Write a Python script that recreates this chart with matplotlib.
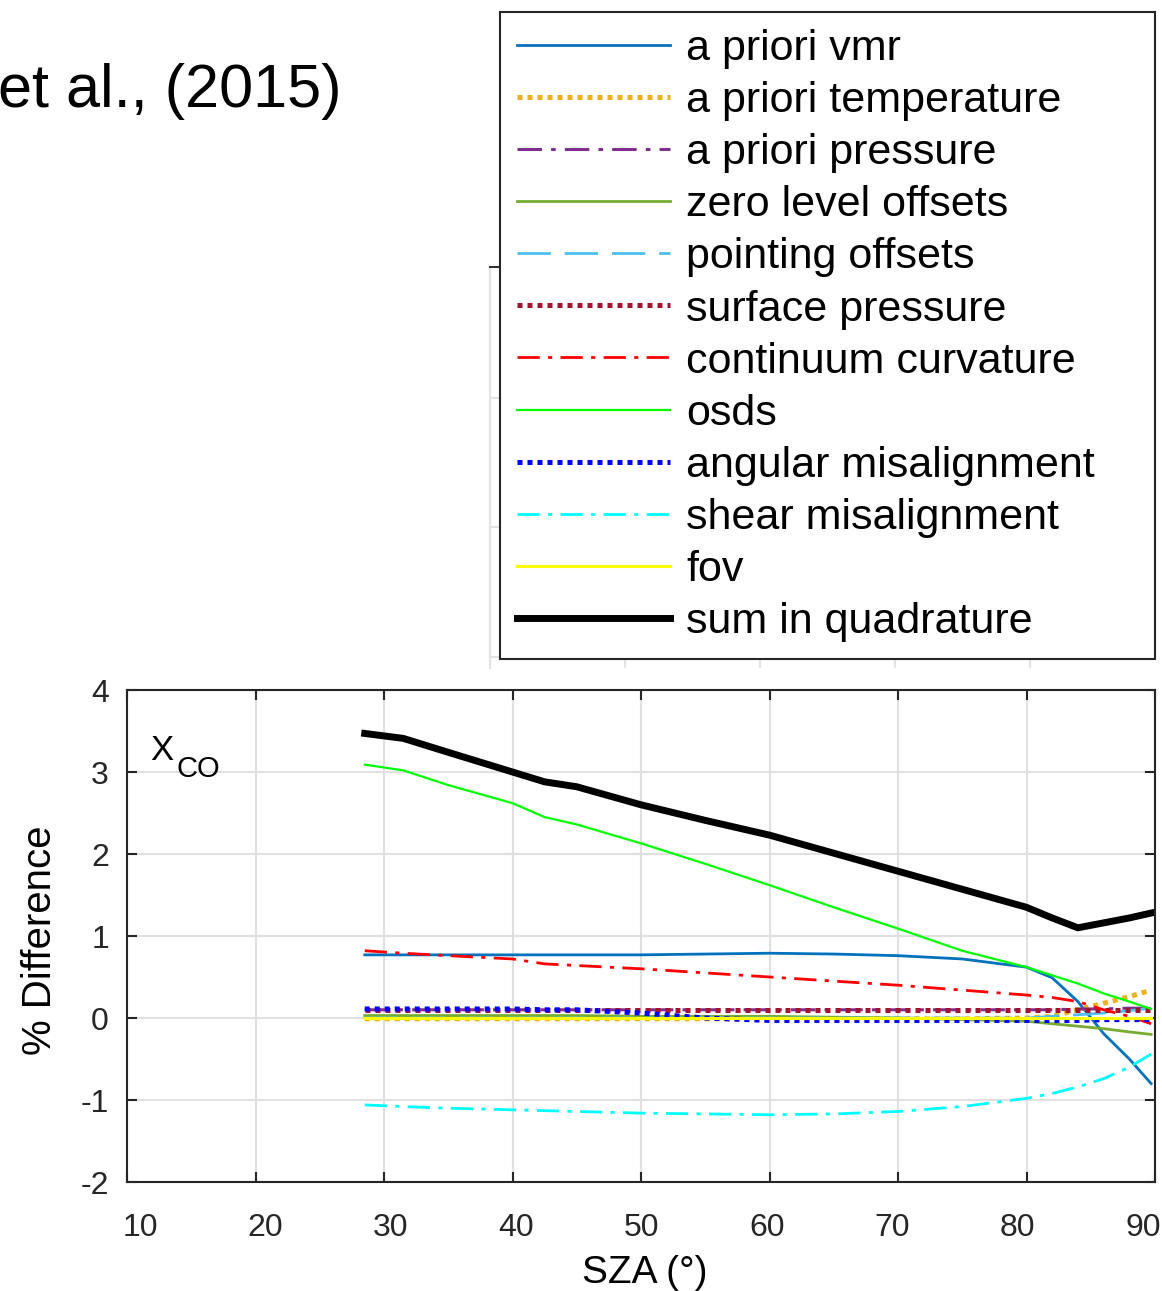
"""XCO error budget vs solar zenith angle (recreated)."""
import matplotlib
matplotlib.use("Agg")
import matplotlib.pyplot as plt
import numpy as np

plt.rcParams.update({"font.family": ["Liberation Sans", "DejaVu Sans"],
                     "axes.unicode_minus": False,
                     "axes.edgecolor": "#262626", "axes.linewidth": 1.5,
                     "xtick.color": "#262626", "ytick.color": "#262626"})

# ---- data ------------------------------------------------------------------
sza = [28.5, 31.5, 35, 40, 42.5, 45, 50, 55, 60, 65, 70, 75, 80, 82, 84, 86, 88, 89.7]

apriori_vmr = [0.77, 0.77, 0.77, 0.77, 0.77, 0.77, 0.77, 0.78, 0.79, 0.78, 0.76, 0.72, 0.62,
               0.49, 0.20, -0.19, -0.50, -0.80]
apriori_temp = [-0.01, -0.01, -0.01, -0.01, -0.01, -0.01, -0.01, -0.01, -0.01, -0.01, -0.01,
                -0.01, 0.0, 0.02, 0.10, 0.18, 0.26, 0.34]
apriori_pres = [0.10, 0.10, 0.10, 0.10, 0.10, 0.10, 0.10, 0.10, 0.10, 0.10, 0.10, 0.10, 0.10,
                0.10, 0.11, 0.11, 0.12, 0.12]
zero_level = [0.03, 0.03, 0.03, 0.03, 0.03, 0.03, 0.02, 0.02, 0.02, 0.01, 0.0, -0.02, -0.04,
              -0.07, -0.10, -0.13, -0.17, -0.20]
pointing = [0.0, 0.0, 0.0, 0.0, 0.0, 0.0, 0.0, 0.0, 0.0, 0.0, 0.0, 0.0, 0.0, 0.02, 0.04,
            0.06, 0.09, 0.12]
surface_pres = [0.10, 0.10, 0.10, 0.10, 0.10, 0.10, 0.10, 0.10, 0.10, 0.10, 0.10, 0.10, 0.10,
                0.10, 0.10, 0.10, 0.10, 0.10]
continuum = [0.82, 0.79, 0.76, 0.72, 0.66, 0.64, 0.60, 0.55, 0.50, 0.45, 0.40, 0.34, 0.28,
             0.25, 0.20, 0.10, 0.02, -0.07]
osds = [3.09, 3.02, 2.84, 2.62, 2.45, 2.36, 2.13, 1.88, 1.62, 1.35, 1.09, 0.82, 0.62, 0.52,
        0.42, 0.30, 0.20, 0.11]
angular = [0.11, 0.11, 0.11, 0.11, 0.10, 0.10, 0.06, 0.0, -0.03, -0.03, -0.03, -0.03, -0.03,
           -0.03, -0.03, -0.02, -0.02, -0.02]
shear = [-1.06, -1.08, -1.10, -1.12, -1.13, -1.14, -1.16, -1.17, -1.18, -1.17, -1.14, -1.08,
         -0.98, -0.92, -0.84, -0.74, -0.60, -0.44]
fov = [0.0] * len(sza)
quadrature = [3.47, 3.41, 3.24, 3.00, 2.88, 2.82, 2.60, 2.41, 2.23, 2.01, 1.79, 1.57, 1.35,
              1.22, 1.10, 1.16, 1.22, 1.28]

series = [
    ("a priori vmr", apriori_vmr, dict(color="#0072BD", lw=2.0, ls="-")),
    ("a priori temperature", apriori_temp, dict(color="#EDB120", lw=3.6, ls=(0, (1, 1)))),
    ("a priori pressure", apriori_pres, dict(color="#7E2F8E", lw=2.2, ls=(0, (8, 3, 1.5, 3)))),
    ("zero level offsets", zero_level, dict(color="#77AC30", lw=2.0, ls="-")),
    ("pointing offsets", pointing, dict(color="#4DBEEE", lw=2.0, ls=(0, (12, 5)))),
    ("surface pressure", surface_pres, dict(color="#A2142F", lw=3.6, ls=(0, (1, 1)))),
    ("continuum curvature", continuum, dict(color="#FF0000", lw=2.0, ls=(0, (8, 3, 1.5, 3)))),
    ("osds", osds, dict(color="#00FF00", lw=1.6, ls="-")),
    ("angular misalignment", angular, dict(color="#0000FF", lw=3.6, ls=(0, (1, 1)))),
    ("shear misalignment", shear, dict(color="#00FFFF", lw=2.0, ls=(0, (8, 3, 1.5, 3)))),
    ("fov", fov, dict(color="#FFFF00", lw=2.2, ls="-")),
    ("sum in quadrature", quadrature, dict(color="black", lw=5.0, ls="-")),
]

W, H = 1162, 1291
fig = plt.figure(figsize=(W / 100, H / 100), dpi=100)


def px_box(x0, y0, x1, y1):
    return [x0 / W, 1 - y1 / H, (x1 - x0) / W, (y1 - y0) / H]


# faint axes peeking out from behind the legend
bg = fig.add_axes(px_box(490, 267, 1155, 668))
bg.set_xlim(0, 4.93); bg.set_ylim(-0.085, 3.01)
bg.set_xticks([1, 2, 3, 4]); bg.set_yticks([0, 1, 2])
bg.tick_params(length=0, labelbottom=False, labelleft=False)
bg.grid(True, color="#e3e3e3", lw=1.5)
for s in ("right", "bottom"):
    bg.spines[s].set_visible(False)
bg.spines["left"].set_color("#e3e3e3")
bg.spines["top"].set_color("#333333")

# main axes
ax = fig.add_axes(px_box(127, 690, 1155, 1182))
for label, y, kw in series:
    ax.plot(sza, y, label=label, dash_capstyle="butt", **kw)

ax.set_xlim(10, 90)
ax.set_ylim(-2, 4)
ax.set_xticks(np.arange(10, 91, 10))
ax.set_yticks(np.arange(-2, 5, 1))
ax.grid(True, color="#e0e0e0", lw=1.5)
ax.set_axisbelow(True)
ax.tick_params(direction="in", length=7, width=1.5, top=True, right=True, labelsize=23)
ax.tick_params(axis="x", labelbottom=False)
ax.tick_params(axis="y", pad=13)

# the x tick labels in the source sit on a slightly narrower scale than the grid
def _fwd(x):
    return 10 + ((x - 10) * 12.85 - 13) / 12.54


def _inv(v):
    return 10 + ((v - 10) * 12.54 + 13) / 12.85


sec = ax.secondary_xaxis("bottom", functions=(_fwd, _inv))
sec.set_xticks(np.arange(10, 91, 10))
sec.tick_params(length=0, pad=22, labelsize=23, colors="#262626")
sec.spines["bottom"].set_visible(False)

ax.set_xlabel("SZA (°)", fontsize=28)
ax.xaxis.set_label_coords(0.504, -0.148)
ax.xaxis.label.set_va("top")
ax.set_ylabel("% Difference", fontsize=29)
ax.yaxis.set_label_coords(-0.066, 0.492)

fig.text(150 / W, 1 - 760 / H, "X", fontsize=25, va="baseline")
fig.text(176 / W, 1 - 777 / H, "CO", fontsize=21, va="baseline")
fig.text(342 / W, 1 - 107 / H, "et al., (2015)", fontsize=44, ha="right", va="baseline")

leg = fig.legend(*ax.get_legend_handles_labels(), loc="upper left",
                 bbox_to_anchor=(500 / W, 1 - 658 / H, 655 / W, 646 / H),
                 mode="expand", borderaxespad=0, fontsize=31, handlelength=3.55,
                 handletextpad=0.38, borderpad=0.4, labelspacing=0.28,
                 fancybox=False, framealpha=1, edgecolor="#262626")
leg.get_frame().set_linewidth(1.5)

fig.savefig("out.png", dpi=100, facecolor="white")
